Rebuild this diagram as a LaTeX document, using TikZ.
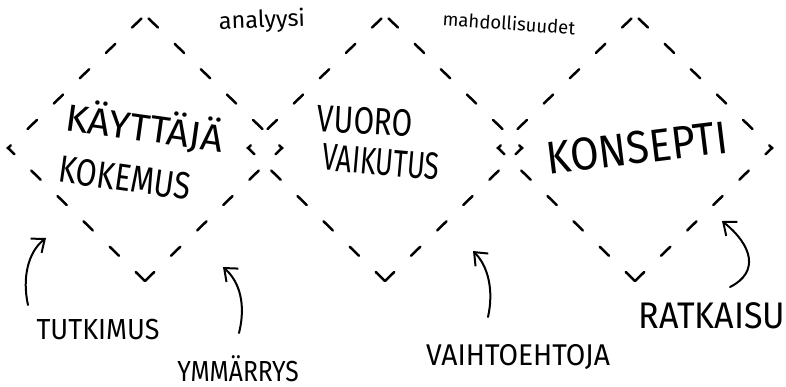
\documentclass[tikz,border=0pt]{standalone}
\usepackage{fontspec}
\setmainfont{Fira Sans}
\usetikzlibrary{arrows.meta}
\begin{document}
\begin{tikzpicture}[x=1pt,y=-1pt,
  diamondline/.style={line width=2.5pt, line cap=round, dash pattern=on 13pt off 23.4pt, dash phase=31.4pt},
  lbl/.style={inner sep=0pt},
  pointer/.style={line width=2pt, line cap=round, -{Straight Barb[length=11pt,width=18pt,line width=2pt]}}]
\useasboundingbox (0,0) rectangle (786,386);
% diamonds
\foreach \n/\cx in {1/145,2/385,3/635}{
  \coordinate (b\n) at (\cx,281);
  \coordinate (l\n) at (\cx-137,148);
  \coordinate (t\n) at (\cx,15);
  \coordinate (r\n) at (\cx+137,148);
  \draw[diamondline] (t\n) -- (l\n) -- (b\n);
  \draw[diamondline] (t\n) -- (r\n) -- (b\n);
}
% inner labels
\node[lbl, rotate=-8] (kay) at (145,127) {\fontsize{38}{40}\selectfont\scalebox{1.02}[1]{KÄYTTÄJÄ}};
\node[lbl, rotate=-8] (kok) at (125,178) {\fontsize{38}{40}\selectfont\scalebox{0.8}[1]{KOKEMUS}};
\node[lbl, rotate=-3] (vuo) at (365,121) {\fontsize{38}{40}\selectfont\scalebox{0.78}[1]{VUORO}};
\node[lbl, rotate=-5] (vai) at (381,162) {\fontsize{38}{40}\selectfont\scalebox{0.71}[1]{VAIKUTUS}};
\node[lbl, rotate=7] (kon) at (637,148) {\fontsize{46}{48}\selectfont\scalebox{0.9}[1]{KONSEPTI}};
% top labels
\node[lbl, rotate=2] (ana) at (262,21) {\fontsize{23.5}{25}\selectfont analyysi};
\node[lbl, rotate=-4] (mah) at (509,23) {\fontsize{18.5}{20}\selectfont mahdollisuudet};
% bottom labels
\node[lbl] (tut) at (98,330) {\fontsize{29}{31}\selectfont\scalebox{0.93}[1]{TUTKIMUS}};
\node[lbl] (ymm) at (238,369) {\fontsize{29}{31}\selectfont\scalebox{0.85}[1]{YMMÄRRYS}};
\node[lbl] (vht) at (518,357) {\fontsize{30}{32}\selectfont\scalebox{0.94}[1]{VAIHTOEHTOJA}};
\node[lbl] (rat) at (712,316) {\fontsize{37}{39}\selectfont\scalebox{0.92}[1]{RATKAISU}};
% arrows
\coordinate (a1s) at (28,305); \coordinate (a1e) at (46,238);
\coordinate (a2s) at (239,333); \coordinate (a2e) at (223,267);
\coordinate (a3s) at (488,317); \coordinate (a3e) at (473,251);
\coordinate (a4s) at (730,287); \coordinate (a4e) at (722,221);
\draw[pointer] (a1s) .. controls (22,278) and (28,252) .. (a1e);
\draw[pointer] (a2s) .. controls (246,305) and (240,282) .. (a2e);
\draw[pointer] (a3s) .. controls (494,290) and (488,266) .. (a3e);
\draw[pointer] (a4s) .. controls (760,272) and (752,245) .. (a4e);
\end{tikzpicture}
\end{document}
